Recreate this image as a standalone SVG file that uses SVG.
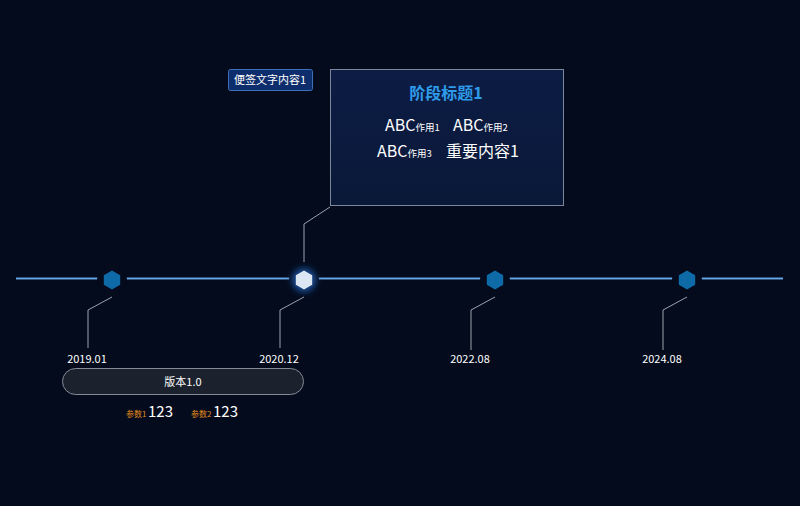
<svg xmlns="http://www.w3.org/2000/svg" width="800" height="506" viewBox="0 0 800 506">
<defs>
<style>
.t{font-family:"Noto Sans CJK SC","Noto Sans",sans-serif;fill:#ffffff}
.lead{fill:none;stroke:#9aa3ad;stroke-width:1}
.date{font-size:11px;text-anchor:middle}
.hex{fill:#0f6aa8}
</style>
<linearGradient id="boxg" x1="0" y1="0" x2="0" y2="1">
<stop offset="0" stop-color="#0c1c44"/>
<stop offset="1" stop-color="#0a1838"/>
</linearGradient>
<filter id="glow" x="-50%" y="-50%" width="200%" height="200%">
<feGaussianBlur stdDeviation="3"/>
</filter>
<polygon id="hx" points="0,-9.5 8.2,-4.75 8.2,4.75 0,9.5 -8.2,4.75 -8.2,-4.75"/>
</defs>
<rect width="800" height="506" fill="#040b1c"/>
<g id="connectors">
<line x1="16" y1="278.5" x2="783" y2="278.5" stroke="#3d7fc4" stroke-width="3" opacity="0.4"/>
<line x1="16" y1="278.5" x2="783" y2="278.5" stroke="#6aa6e0" stroke-width="1.3"/>
<polyline class="lead" points="112,297 88,310 88,348"/>
<polyline class="lead" points="304,297 280,310 280,348"/>
<polyline class="lead" points="495,297 471,310 471,350"/>
<polyline class="lead" points="687,297 663,310 663,350"/>
<polyline class="lead" points="304,262 304,224 330,207"/>
</g>
<g id="node1">
<circle cx="112" cy="280" r="15" fill="#040b1c"/>
<use href="#hx" x="112" y="280" class="hex"/>
<text class="t date" x="87" y="363">2019.01</text>
</g>
<g id="node2">
<circle cx="304" cy="280" r="15" fill="#040b1c"/>
<circle cx="304" cy="280" r="12" fill="#1a4f9a" filter="url(#glow)"/>
<use href="#hx" x="304" y="280" fill="#dde7f3"/>
<text class="t date" x="279" y="363">2020.12</text>
</g>
<g id="node3">
<circle cx="495" cy="280" r="15" fill="#040b1c"/>
<use href="#hx" x="495" y="280" class="hex"/>
<text class="t date" x="470" y="363">2022.08</text>
</g>
<g id="node4">
<circle cx="687" cy="280" r="15" fill="#040b1c"/>
<use href="#hx" x="687" y="280" class="hex"/>
<text class="t date" x="662" y="363">2024.08</text>
</g>
<g id="sticky">
<rect x="228.5" y="69.5" width="84" height="21" rx="2" fill="#0d2d6c" stroke="#3f6fb5"/>
<text class="t" x="270" y="84" font-size="11" text-anchor="middle">便签文字内容1</text>
</g>
<g id="stage-box">
<rect x="330.5" y="69.5" width="233" height="136" fill="url(#boxg)" stroke="#7d879c"/>
<text class="t" x="446" y="99" font-size="16" font-weight="bold" text-anchor="middle" style="fill:#2e9bea">阶段标题1</text>
<text class="t" x="385" y="131" font-size="16">ABC<tspan font-size="9.5">作用1</tspan></text>
<text class="t" x="453" y="131" font-size="16">ABC<tspan font-size="9.5">作用2</tspan></text>
<text class="t" x="377" y="157" font-size="16">ABC<tspan font-size="9.5">作用3</tspan></text>
<text class="t" x="446" y="157" font-size="16">重要内容1</text>
</g>
<g id="version">
<rect x="62.5" y="368.5" width="241" height="26" rx="13" fill="#1b222e" stroke="#868c96"/>
<text class="t" x="183" y="385.5" font-size="11" text-anchor="middle">版本1.0</text>
</g>
<g id="params">
<text class="t" x="126" y="417" font-size="8" style="fill:#e08a1c">参数1</text>
<text class="t" x="148" y="417" font-size="15">123</text>
<text class="t" x="191" y="417" font-size="8" style="fill:#e08a1c">参数2</text>
<text class="t" x="213" y="417" font-size="15">123</text>
</g>
</svg>
